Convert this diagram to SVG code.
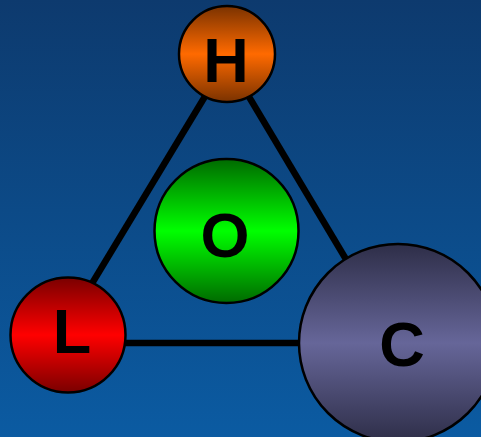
<svg xmlns="http://www.w3.org/2000/svg" width="481" height="437" viewBox="0 0 481 437">
<defs>
<linearGradient id="bg" x1="0" y1="0" x2="0" y2="1">
<stop offset="0" stop-color="#0d3a6e"/>
<stop offset="1" stop-color="#0b5ba2"/>
</linearGradient>
<linearGradient id="gH" x1="0" y1="0" x2="0" y2="1">
<stop offset="0" stop-color="#7a3200"/>
<stop offset="0.5" stop-color="#ff6a00"/>
<stop offset="1" stop-color="#7a3200"/>
</linearGradient>
<linearGradient id="gL" x1="0" y1="0" x2="0" y2="1">
<stop offset="0" stop-color="#7a0000"/>
<stop offset="0.5" stop-color="#ff0000"/>
<stop offset="1" stop-color="#7a0000"/>
</linearGradient>
<linearGradient id="gO" x1="0" y1="0" x2="0" y2="1">
<stop offset="0" stop-color="#006a00"/>
<stop offset="0.5" stop-color="#00ff00"/>
<stop offset="1" stop-color="#006a00"/>
</linearGradient>
<linearGradient id="gC" x1="0" y1="0" x2="0" y2="1">
<stop offset="0" stop-color="#2e2e48"/>
<stop offset="0.5" stop-color="#666699"/>
<stop offset="1" stop-color="#2e2e48"/>
</linearGradient>
</defs>
<style>
.n{stroke:#000;stroke-width:2.5}
.t{font-family:"Liberation Sans",Arial,sans-serif;font-weight:bold;font-size:63px;fill:#000;text-anchor:middle}
.e{stroke:#000;stroke-width:6.5;fill:none}
</style>
<rect width="481" height="437" fill="url(#bg)"/>
<g id="connectors">
<line class="e" x1="227" y1="60" x2="56" y2="343"/>
<line class="e" x1="227" y1="60" x2="396" y2="343"/>
<line class="e" x1="56" y1="343" x2="396" y2="343"/>
</g>
<g id="node-H">
<circle class="n" cx="227" cy="54" r="48" fill="url(#gH)"/>
<text class="t" x="226" y="82">H</text>
</g>
<g id="node-O">
<circle class="n" cx="226.5" cy="231" r="72" fill="url(#gO)"/>
<text class="t" x="225" y="257">O</text>
</g>
<g id="node-L">
<circle class="n" cx="68" cy="335" r="57.5" fill="url(#gL)"/>
<text class="t" x="72" y="353">L</text>
</g>
<g id="node-C">
<circle class="n" cx="398" cy="343" r="99" fill="url(#gC)"/>
<text class="t" x="402" y="366">C</text>
</g>
</svg>
